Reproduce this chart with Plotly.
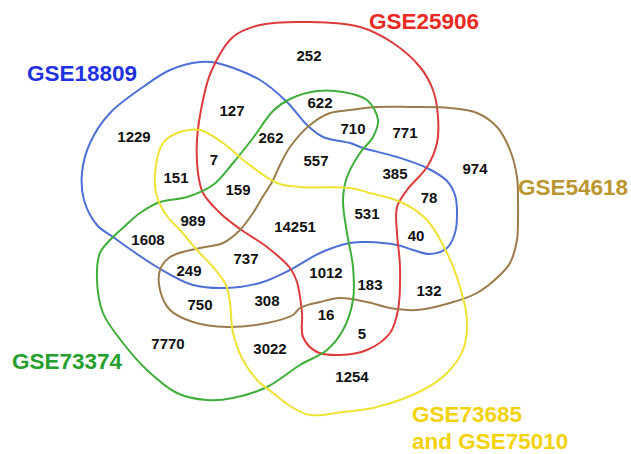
import plotly.graph_objects as go

# region counts of the 5-set Venn diagram and where each sits on the drawing
counts = [252, 127, 622, 710, 771, 974, 262, 7, 151, 557, 385, 78, 159, 1229, 989,
          14251, 531, 40, 1608, 249, 737, 1012, 183, 132, 750, 308, 16, 5, 7770, 3022, 1254]
count_x = [309, 232, 320, 353, 405, 475, 271, 214, 176, 316, 395, 429, 238, 134, 193,
           295, 367, 416, 148, 189, 246, 326, 370, 429, 200, 267, 326, 362, 168, 270, 352]
count_y = [57, 112, 104, 130, 134, 170, 139, 161, 179, 162, 175, 199, 191, 138, 222,
           228, 215, 237, 241, 272, 260, 274, 286, 292, 306, 302, 316, 335, 345, 350, 378]

set_names = ["GSE18809", "GSE25906", "GSE54618", "GSE73374", "GSE73685", "and GSE75010"]
line_colors = ["#4d6fd6", "#dd3b3b", "#9c7b4c", "#3fae3a", "#efe234"]
label_colors = ["#1f32e0", "#ea2a22", "#bb9630", "#25a02c", "#f2d20a", "#f2d20a"]

# outlines of each set (drawing coordinates, y down)
outlines = [
    [(200, 62), (217, 63), (260, 80), (287, 102), (307, 125), (323, 137), (350, 143),
     (363, 148), (397, 157), (427, 168), (447, 181), (455, 195), (457, 212), (455, 233),
     (447, 248), (430, 254), (413, 250), (397, 245), (367, 242), (350, 243), (320, 253),
     (290, 270), (260, 283), (227, 288), (193, 285), (157, 267), (113, 237), (97, 225),
     (84, 200), (82, 173), (90, 143), (110, 113), (143, 87), (170, 70)],
    [(260, 25), (310, 22), (360, 27), (393, 43), (420, 67), (433, 90), (438, 117),
     (437, 143), (427, 167), (407, 190), (397, 207), (397, 233), (400, 267), (398, 310),
     (390, 333), (367, 350), (340, 355), (317, 352), (303, 337), (302, 313), (297, 282),
     (290, 268), (267, 247), (240, 229), (220, 213), (203, 193), (198, 173), (197, 140),
     (203, 100), (211, 72), (233, 37)],
    [(377, 107), (410, 107), (450, 108), (477, 113), (497, 127), (510, 150), (517, 177),
     (518, 200), (518, 220), (517, 240), (510, 263), (500, 275), (477, 293), (450, 303),
     (417, 310), (390, 308), (367, 302), (340, 298), (320, 302), (300, 308), (293, 315),
     (267, 323), (227, 327), (193, 322), (170, 310), (160, 290), (160, 270), (170, 257),
     (200, 248), (223, 243), (240, 230), (253, 213), (262, 198), (272, 182), (280, 165),
     (290, 147), (310, 125), (330, 113), (350, 110)],
    [(317, 91), (343, 92), (367, 100), (378, 120), (373, 137), (360, 153), (347, 177),
     (343, 200), (347, 233), (353, 267), (353, 300), (343, 330), (327, 350), (300, 365),
     (267, 387), (233, 398), (207, 400), (177, 393), (147, 370), (123, 343), (103, 313),
     (97, 280), (100, 253), (113, 237), (125, 226), (140, 213), (160, 202), (187, 197),
     (213, 185), (233, 163), (253, 138), (273, 111), (290, 99)],
    [(200, 130), (223, 143), (247, 163), (277, 183), (300, 187), (350, 188), (370, 193),
     (403, 203), (427, 220), (447, 253), (460, 287), (467, 320), (463, 350), (447, 373),
     (423, 390), (377, 407), (343, 412), (310, 415), (290, 406), (273, 393), (257, 380),
     (243, 360), (233, 333), (230, 303), (226, 285), (213, 267), (197, 250), (180, 230),
     (167, 216), (157, 197), (155, 173), (163, 143), (180, 132)],
]

label_x = [82, 424, 630, 67, 410, 410]
label_y = [73, 21, 187, 361, 414, 441]
label_anchor = ["center", "center", "right", "center", "left", "left"]

fig = go.Figure()

for pts, col in zip(outlines, line_colors):
    xs = [p[0] for p in pts] + [pts[0][0]]
    ys = [p[1] for p in pts] + [pts[0][1]]
    fig.add_trace(go.Scatter(x=xs, y=ys, mode="lines",
                             line=dict(color=col, width=2, shape="spline", smoothing=1.0),
                             hoverinfo="skip"))

fig.add_trace(go.Scatter(
    x=count_x, y=count_y, mode="text", text=[str(c) for c in counts],
    textfont=dict(family="Liberation Sans, Arial", size=15, color="#111111", weight="bold"),
    hoverinfo="skip"))

for name, x, y, col, anc in zip(set_names, label_x, label_y, label_colors, label_anchor):
    fig.add_annotation(x=x, y=y, text=name, showarrow=False, xanchor=anc, yanchor="middle",
                       font=dict(family="Liberation Sans, Arial", size=22.5, color=col, weight="bold"))

fig.update_xaxes(range=[0, 631], visible=False, fixedrange=True)
fig.update_yaxes(range=[454, 0], visible=False, fixedrange=True)
fig.update_layout(width=631, height=454, margin=dict(l=0, r=0, t=0, b=0),
                  showlegend=False, plot_bgcolor="white", paper_bgcolor="white")

# the page body has a default 8px margin; drop it so the figure fills the window
fig.write_html("out.html", config={"displayModeBar": False},
               post_script="document.body.style.margin='0';")
